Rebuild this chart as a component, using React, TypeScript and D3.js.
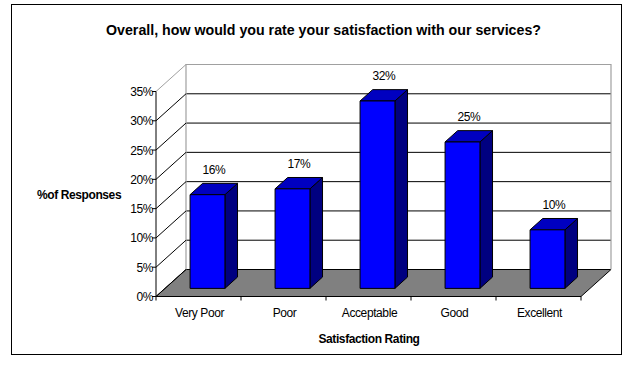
import React from "react";
import * as d3 from "d3";

const categories = ["Very Poor", "Poor", "Acceptable", "Good", "Excellent"];
const values = [16, 17, 32, 25, 10];
const yTicks = [0, 5, 10, 15, 20, 25, 30, 35];
const title = "Overall, how would you rate your satisfaction with our services?";
const yTitle = "%of Responses";
const xTitle = "Satisfaction Rating";

const W = 633, H = 369;
const FONT = "'Liberation Sans', Arial, sans-serif";

export default function App() {
  const x0 = 156, x1 = 581;
  const y = d3.scaleLinear().domain([0, 35]).range([296.5, 91.5]);
  const x = d3.scaleBand<string>().domain(categories).range([x0, x1]).padding(0);
  const DX = 30, DY = -27; // full depth vector
  const f0 = 0.3, f1 = 0.72;
  const bw = x.bandwidth() * 0.41;
  const bdx = DX * (f1 - f0), bdy = DY * (f1 - f0);
  const yBot = y(0), yTop = y(35);

  const pts = (p: number[][]) => p.map((q) => q.join(",")).join(" ");

  return (
    <svg width={W} height={H} style={{ position: "absolute", left: 0, top: 0 }} fontFamily={FONT}>
      <rect x={0} y={0} width={W} height={H} fill="#fff" />
      <rect x={11.5} y={4.5} width={610} height={350} fill="#fff" stroke="#000" strokeWidth={1} />
      <text x={106} y={35} fontSize={15} fontWeight="bold" textLength={435} lengthAdjust="spacingAndGlyphs">{title}</text>

      {/* back wall */}
      <rect x={x0 + DX} y={yTop + DY} width={x1 - x0} height={yBot - yTop} fill="#fff" />
      {/* gridlines on back wall */}
      {yTicks.slice(1, -1).map((t) => (
        <line key={"g" + t} x1={x0 + DX} x2={x1 + DX} y1={y(t) + DY} y2={y(t) + DY} stroke="#000" strokeWidth={1} />
      ))}
      {/* floor */}
      <polygon
        points={pts([[x0, yBot], [x1, yBot], [x1 + DX, yBot + DY], [x0 + DX, yBot + DY]])}
        fill="#808080"
        stroke="#000"
        strokeWidth={1}
      />
      {/* back wall borders */}
      <polyline
        points={pts([[x0 + DX, yBot + DY], [x0 + DX, yTop + DY], [x1 + DX, yTop + DY], [x1 + DX, yBot + DY]])}
        fill="none"
        stroke="#a0a0a0"
        strokeWidth={1.2}
      />
      {/* side wall diagonals */}
      {yTicks.map((t) => (
        <line key={"d" + t} x1={x0} y1={y(t)} x2={x0 + DX} y2={y(t) + DY} stroke={t === 35 ? "#a0a0a0" : "#000"} strokeWidth={1} />
      ))}

      {/* bars */}
      {categories.map((c, i) => {
        const v = values[i];
        const cx = (x(c) as number) + x.bandwidth() / 2 + DX * f0;
        const bx0 = cx - bw / 2, bx1 = cx + bw / 2;
        const by0 = y(0) + DY * f0, by1 = y(v) + DY * f0;
        return (
          <g key={c} stroke="#000" strokeWidth={1} strokeLinejoin="round">
            <polygon points={pts([[bx1, by0], [bx1 + bdx, by0 + bdy], [bx1 + bdx, by1 + bdy], [bx1, by1]])} fill="#000080" />
            <polygon points={pts([[bx0, by1], [bx1, by1], [bx1 + bdx, by1 + bdy], [bx0 + bdx, by1 + bdy]])} fill="#0000c0" />
            <rect x={bx0} y={by1} width={bw} height={by0 - by1} fill="#0000ff" />
            <text x={cx + bdx / 2} y={by1 - 21} textAnchor="middle" fontSize={12} stroke="none" fill="#000" letterSpacing={-0.4}>{v}%</text>
          </g>
        );
      })}

      {/* y axis */}
      <line x1={x0} x2={x0} y1={yTop} y2={yBot} stroke="#000" />
      {yTicks.map((t) => (
        <g key={"t" + t}>
          <line x1={x0 - 4} x2={x0} y1={y(t)} y2={y(t)} stroke="#000" />
          <text x={x0 - 3} y={y(t) + 4.5} textAnchor="end" fontSize={12} letterSpacing={-0.4}>{t}%</text>
        </g>
      ))}
      {/* x axis */}
      <line x1={x0} x2={x1} y1={yBot} y2={yBot} stroke="#000" />
      {d3.range(categories.length + 1).map((i) => {
        const xx = x0 + i * x.step();
        return <line key={"xt" + i} x1={xx} x2={xx} y1={yBot} y2={yBot + 4} stroke="#000" />;
      })}
      {categories.map((c) => (
        <text key={"l" + c} x={(x(c) as number) + x.bandwidth() / 2 + 1} y={317} textAnchor="middle" fontSize={12} letterSpacing={-0.4}>{c}</text>
      ))}
      <text x={369} y={343} textAnchor="middle" fontSize={12} fontWeight="bold" letterSpacing={-0.4}>{xTitle}</text>
      <text x={37} y={199} fontSize={12} fontWeight="bold" letterSpacing={-0.4}>{yTitle}</text>
    </svg>
  );
}
